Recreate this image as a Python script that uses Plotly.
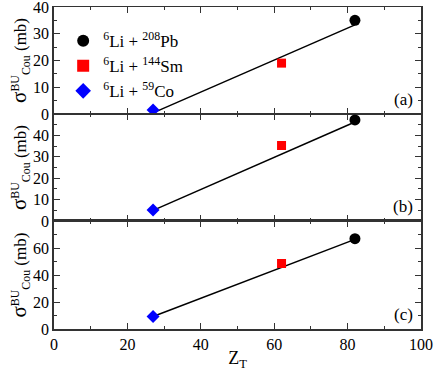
import plotly.graph_objects as go

# target charge Z_T and Coulomb breakup cross sections (mb) for each panel
systems = ['<sup>6</sup>Li + <sup>208</sup>Pb', '<sup>6</sup>Li + <sup>144</sup>Sm', '<sup>6</sup>Li + <sup>59</sup>Co']
z_t = [82, 62, 27]
sigma_a = [35.0, 19.0, 1.5]
sigma_b = [47.2, 35.3, 5.2]
sigma_c = [67.0, 48.5, 9.3]
# straight line fits (end points)
fit_x = [27, 82]
fit_a = [0.4, 33.3]
fit_b = [5.0, 46.2]
fit_c = [9.3, 66.5]
panel_tags = ['(a)', '(b)', '(c)']

colors = ['black', '#ff0000', '#0000ff']
symbols = ['circle', 'square', 'diamond']
sizes = [11, 9, 10]
serif = 'Liberation Serif, Times New Roman, serif'

fig = go.Figure()
panels = [(sigma_a, fit_a, 'y'), (sigma_b, fit_b, 'y2'), (sigma_c, fit_c, 'y3')]
xrefs = ['x', 'x2', 'x3']
for p, (vals, fit, yref) in enumerate(panels):
    fig.add_trace(go.Scatter(x=fit_x, y=fit, mode='lines', line=dict(color='black', width=1.5),
                             xaxis=xrefs[p], yaxis=yref, showlegend=False))
    for i in range(3):
        fig.add_trace(go.Scatter(x=[z_t[i]], y=[vals[i]], mode='markers', name=systems[i],
                                 marker=dict(color=colors[i], symbol=symbols[i], size=sizes[i]),
                                 legendgroup=systems[i], showlegend=(p == 0),
                                 xaxis=xrefs[p], yaxis=yref))

font = dict(family=serif, size=16, color='black')
ax_common = dict(showline=True, mirror='ticks', linecolor='#333', linewidth=1.5,
                 ticks='inside', ticklen=6, tickwidth=1, tickcolor='#333', ticklabeloverflow='allow',
                 showgrid=False, zeroline=False, tickfont=font, automargin=False)

domains = [[0.668, 1.0], [0.335, 0.668], [0.0, 0.335]]
yranges = [[0, 40], [0, 50], [0, 80]]
ytickvals = [[0, 10, 20, 30, 40], [0, 10, 20, 30, 40], [0, 20, 40, 60]]
yminor = [5, 5, 10]
ytitle = '<span style="font-size:21px">σ</span><sup>BU</sup><sub>Cou</sub> (mb)'

layout = dict(width=436, height=371, margin=dict(l=54, r=15, t=7, b=42),
              plot_bgcolor='white', paper_bgcolor='white', font=font,
              legend=dict(x=0.025, y=0.95, xanchor='left', yanchor='top', bgcolor='rgba(0,0,0,0)',
                          font=dict(family=serif, size=17), tracegroupgap=0, itemsizing='constant'))
for p in range(3):
    xname = 'xaxis' if p == 0 else 'xaxis%d' % (p + 1)
    yname = 'yaxis' if p == 0 else 'yaxis%d' % (p + 1)
    layout[xname] = dict(ax_common, range=[0, 100], dtick=20, anchor='y' if p == 0 else 'y%d' % (p + 1),
                         linewidth=1 if p < 2 else 1.5,
                         showticklabels=(p == 2), minor=dict(ticks='inside', dtick=10, ticklen=3, tickcolor='#333'))
    layout[yname] = dict(ax_common, range=yranges[p], tickvals=ytickvals[p], domain=domains[p],
                         anchor='x' if p == 0 else 'x%d' % (p + 1),
                         minor=dict(ticks='inside', dtick=yminor[p], ticklen=3, tickcolor='#333'),
                         title=dict(text=ytitle, font=dict(family=serif, size=17), standoff=2))
layout['xaxis3']['title'] = dict(text='Z<sub>T</sub>', font=dict(family=serif, size=18), standoff=0)
fig.update_layout(**layout)

ydom_top = [d[0] for d in domains]
for p in range(3):
    fig.add_annotation(text=panel_tags[p], x=0.985, y=ydom_top[p] + 0.01, xref='paper', yref='paper',
                       xanchor='right', yanchor='bottom', showarrow=False,
                       font=dict(family=serif, size=17, color='black'))

fig.write_html("out.html", config={'displayModeBar': False},
               post_script="document.body.style.margin='0px';")
